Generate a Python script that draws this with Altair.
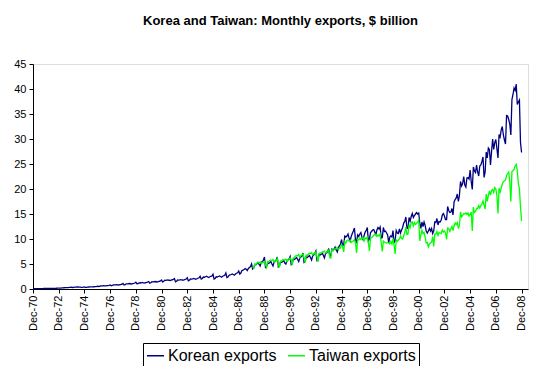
import altair as alt
import pandas as pd

# Monthly exports, $ billion. Korea: Dec-70 .. Dec-08; Taiwan: Jan-88 .. Dec-08
korea_70s = [
    0.10,
    0.07, 0.07, 0.08, 0.09, 0.09, 0.09, 0.09, 0.09, 0.09, 0.10, 0.10, 0.12,
    0.10, 0.10, 0.12, 0.12, 0.13, 0.13, 0.13, 0.14, 0.14, 0.15, 0.16, 0.19,
    0.18, 0.19, 0.22, 0.23, 0.25, 0.27, 0.27, 0.28, 0.29, 0.31, 0.32, 0.35,
    0.30, 0.32, 0.37, 0.38, 0.40, 0.40, 0.38, 0.36, 0.34, 0.33, 0.36, 0.40,
    0.33, 0.33, 0.38, 0.40, 0.42, 0.44, 0.43, 0.42, 0.45, 0.47, 0.48, 0.55,
    0.50, 0.52, 0.60, 0.62, 0.63, 0.65, 0.64, 0.62, 0.66, 0.68, 0.72, 0.82,
    0.65, 0.70, 0.80, 0.82, 0.83, 0.86, 0.83, 0.80, 0.88, 0.90, 0.95, 1.10,
    0.82, 0.88, 1.02, 1.03, 1.05, 1.10, 1.05, 1.00, 1.08, 1.12, 1.20, 1.35,
    1.05, 1.08, 1.22, 1.20, 1.25, 1.32, 1.22, 1.18, 1.25, 1.30, 1.38, 1.50,
]
korea_80s = [
    1.15, 1.25, 1.45, 1.42, 1.45, 1.50, 1.45, 1.40, 1.50, 1.55, 1.62, 1.80,
    1.40, 1.55, 1.75, 1.72, 1.78, 1.82, 1.75, 1.70, 1.80, 1.85, 1.92, 2.10,
    1.45, 1.55, 1.80, 1.78, 1.82, 1.88, 1.80, 1.75, 1.85, 1.90, 2.00, 2.25,
    1.65, 1.75, 2.00, 1.98, 2.02, 2.10, 2.00, 1.95, 2.05, 2.15, 2.25, 2.55,
    2.00, 2.10, 2.40, 2.35, 2.45, 2.55, 2.40, 2.30, 2.45, 2.55, 2.60, 2.95,
    2.00, 2.10, 2.45, 2.40, 2.50, 2.60, 2.50, 2.35, 2.55, 2.65, 2.75, 3.20,
    2.30, 2.40, 2.75, 2.80, 2.90, 3.00, 2.90, 2.75, 3.00, 3.15, 3.25, 3.60,
    3.00, 3.20, 3.70, 3.75, 3.90, 4.10, 3.95, 3.70, 4.10, 4.30, 4.50, 5.00,
    4.00, 4.20, 4.90, 4.85, 5.05, 5.30, 4.90, 4.60, 5.30, 5.50, 5.70, 6.40,
    4.30, 4.50, 5.20, 5.10, 5.30, 5.50, 5.00, 4.60, 5.40, 5.50, 5.80, 6.40,
]
korea_90s = [
    4.40, 4.60, 5.40, 5.30, 5.50, 5.70, 5.20, 5.00, 5.60, 5.80, 6.00, 6.50,
    4.90, 5.20, 6.00, 5.90, 6.10, 6.30, 5.90, 5.50, 6.20, 6.40, 6.60, 7.20,
    5.30, 5.50, 6.40, 6.30, 6.50, 6.70, 6.30, 5.80, 6.60, 6.80, 7.10, 7.60,
    5.70, 5.90, 6.90, 6.80, 6.95, 7.20, 6.70, 6.20, 7.10, 7.20, 7.50, 8.10,
    6.50, 6.80, 8.00, 7.80, 8.00, 8.40, 7.80, 7.40, 8.30, 8.60, 9.00, 9.90,
    8.60, 8.90, 10.60, 10.40, 10.60, 11.00, 10.20, 9.60, 10.50, 11.10, 11.60, 12.20,
    9.80, 9.40, 10.80, 10.50, 11.00, 11.30, 10.40, 9.90, 10.70, 11.40, 11.70, 12.30,
    9.60, 10.00, 11.30, 11.50, 11.80, 11.90, 11.40, 10.90, 11.80, 12.30, 12.00, 12.40,
    10.20, 10.30, 12.30, 11.50, 11.60, 11.20, 10.80, 9.20, 10.40, 10.60, 10.40, 11.70,
    9.20, 9.70, 11.70, 11.20, 11.10, 12.00, 11.20, 11.80, 12.30, 13.20, 13.50, 14.40,
]
korea_00s = [
    12.20, 12.10, 14.30, 13.60, 14.50, 15.10, 14.30, 14.70, 15.00, 15.30, 15.00, 15.20,
    13.20, 12.10, 13.40, 12.50, 13.40, 12.70, 11.60, 11.20, 11.60, 12.10, 11.60, 12.10,
    11.10, 11.60, 13.40, 13.30, 14.10, 12.80, 13.50, 13.40, 13.80, 14.80, 15.10, 14.60,
    13.90, 13.90, 16.50, 15.70, 15.30, 15.40, 16.10, 14.80, 17.40, 17.90, 18.20, 19.00,
    17.50, 18.70, 21.50, 20.60, 21.10, 22.50, 20.80, 20.40, 22.20, 22.30, 22.00, 23.80,
    21.50, 19.90, 24.40, 23.60, 23.30, 24.80, 23.40, 22.60, 24.60, 24.80, 25.50, 26.40,
    22.30, 23.40, 27.40, 26.20, 28.20, 27.90, 24.80, 27.50, 30.00, 27.90, 29.30, 29.90,
    28.00, 26.20, 30.90, 30.40, 31.80, 32.50, 30.80, 29.80, 29.00, 34.70, 34.60, 33.90,
    33.00, 30.80, 37.90, 38.90, 40.20, 39.70, 41.00, 36.90, 37.40, 37.80, 29.30, 27.30,
]
taiwan_80s = [
    4.50, 4.20, 5.00, 4.90, 5.20, 5.30, 5.20, 5.40, 5.10, 5.30, 5.30, 5.50,
    4.90, 4.30, 5.50, 5.40, 5.70, 5.80, 5.70, 5.90, 5.40, 5.70, 5.60, 6.10,
]
taiwan_90s = [
    5.00, 4.30, 5.60, 5.50, 5.90, 5.80, 5.80, 6.00, 5.50, 5.80, 5.90, 6.20,
    5.80, 4.80, 6.20, 6.30, 6.60, 6.70, 6.60, 6.90, 6.30, 6.70, 6.80, 7.00,
    6.20, 5.30, 6.80, 6.70, 7.00, 7.10, 7.10, 7.30, 6.80, 7.10, 7.00, 7.40,
    6.50, 5.40, 7.10, 7.20, 7.20, 7.40, 7.40, 7.60, 7.20, 7.40, 7.60, 7.80,
    6.30, 6.20, 7.90, 7.60, 7.90, 8.10, 8.20, 8.30, 7.90, 8.20, 8.20, 8.90,
    8.50, 7.40, 9.50, 9.20, 9.70, 9.80, 9.60, 9.80, 9.30, 9.50, 9.60, 9.90,
    9.10, 7.20, 9.90, 9.80, 10.20, 9.90, 10.10, 10.30, 9.60, 10.20, 10.10, 10.40,
    9.30, 7.60, 10.10, 10.30, 10.50, 10.70, 11.00, 10.90, 10.50, 10.80, 10.60, 11.00,
    9.20, 7.50, 9.60, 9.40, 9.30, 9.20, 9.30, 9.20, 9.00, 9.50, 9.00, 10.10,
    8.80, 7.00, 9.80, 9.50, 9.80, 10.00, 10.60, 10.10, 10.00, 10.70, 11.30, 12.40,
]
taiwan_00s = [
    10.90, 11.00, 12.90, 12.30, 13.30, 13.40, 12.60, 13.30, 12.90, 13.10, 13.40, 13.80,
    9.60, 10.80, 11.80, 11.10, 11.30, 10.40, 9.20, 9.30, 8.40, 9.00, 9.20, 9.40,
    10.50, 8.50, 11.00, 11.00, 11.50, 10.70, 11.30, 11.20, 11.10, 11.80, 11.40, 11.60,
    11.20, 9.90, 12.20, 12.10, 11.50, 12.00, 12.50, 11.70, 12.60, 13.20, 12.90, 13.30,
    12.10, 12.80, 15.40, 14.40, 14.70, 15.10, 15.00, 15.20, 14.90, 15.20, 14.60, 14.90,
    15.40, 11.60, 16.40, 15.30, 15.50, 16.10, 16.10, 16.70, 16.20, 16.70, 17.00, 17.60,
    16.80, 16.00, 19.00, 17.50, 18.70, 19.60, 18.80, 19.70, 19.90, 19.30, 20.30, 20.00,
    18.60, 15.10, 20.20, 19.40, 20.20, 21.00, 21.50, 21.60, 21.80, 22.70, 23.10, 23.40,
    21.50, 17.50, 23.50, 23.70, 23.90, 24.60, 24.90, 23.70, 21.10, 20.10, 16.40, 13.60,
]

series_names = ["Korean exports", "Taiwan exports"]
series_colors = ["#000080", "#00FF00"]
y_ticks = [0, 5, 10, 15, 20, 25, 30, 35, 40, 45]

korea = korea_70s + korea_80s + korea_90s + korea_00s
taiwan = taiwan_80s + taiwan_90s + taiwan_00s
taiwan_start = 17 * 12 + 1  # Jan-88, months after Dec-70

rows = []
for i, v in enumerate(korea):
    rows.append({"t": i, "value": v, "series": series_names[0]})
for i, v in enumerate(taiwan):
    rows.append({"t": taiwan_start + i, "value": v, "series": series_names[1]})
df = pd.DataFrame(rows)

x_ticks = list(range(0, 457, 24))
font = "Liberation Sans"

chart = (
    alt.Chart(df)
    .mark_line(strokeWidth=1.3, clip=True)
    .encode(
        x=alt.X(
            "t:Q",
            scale=alt.Scale(domain=[0, 462], nice=False, zero=False),
            axis=alt.Axis(
                values=x_ticks,
                labelExpr="'Dec-' + format((70 + datum.value / 12) % 100, '02d')",
                labelAngle=-90,
                title=None,
                grid=False,
                tickSize=4,
                labelPadding=2,
                labelFontSize=11,
                labelFont=font,
                labelColor="#000000",
                domainColor="#000000",
                tickColor="#000000",
                labelOverlap=False,
                labelFlush=False,
            ),
        ),
        y=alt.Y(
            "value:Q",
            scale=alt.Scale(domain=[0, 45], nice=False),
            axis=alt.Axis(
                values=y_ticks,
                title=None,
                grid=False,
                tickSize=4,
                labelPadding=3,
                labelFontSize=11,
                labelFont=font,
                labelColor="#000000",
                domainColor="#000000",
                tickColor="#000000",
                labelFlush=False,
            ),
        ),
        color=alt.Color(
            "series:N",
            scale=alt.Scale(domain=series_names, range=series_colors),
            legend=alt.Legend(
                title=None,
                orient="none",
                direction="horizontal",
                legendX=110,
                legendY=279,
                symbolType="stroke",
                symbolSize=290,
                symbolStrokeWidth=1.5,
                labelFontSize=16,
                labelFont=font,
                labelColor="#000000",
                labelOffset=3,
                columnPadding=7,
                padding=3,
                strokeColor="#000000",
                fillColor="#FFFFFF",
                cornerRadius=0,
            ),
        ),
    )
    .properties(
        width=495,
        height=225,
        title=alt.TitleParams(
            "Korea and Taiwan: Monthly exports, $ billion",
            font=font,
            fontSize=13,
            fontWeight="bold",
            color="#000000",
            anchor="middle",
            offset=30,
        ),
        autosize=alt.AutoSizeParams(type="none"),
        padding={"left": 25, "top": 56, "right": 11, "bottom": 77},
    )
    .configure_view(stroke="#A0A0A0", strokeWidth=1)
    .configure(background="#FFFFFF")
)

chart.save("out.html", embed_options={"renderer": "svg", "actions": False})
